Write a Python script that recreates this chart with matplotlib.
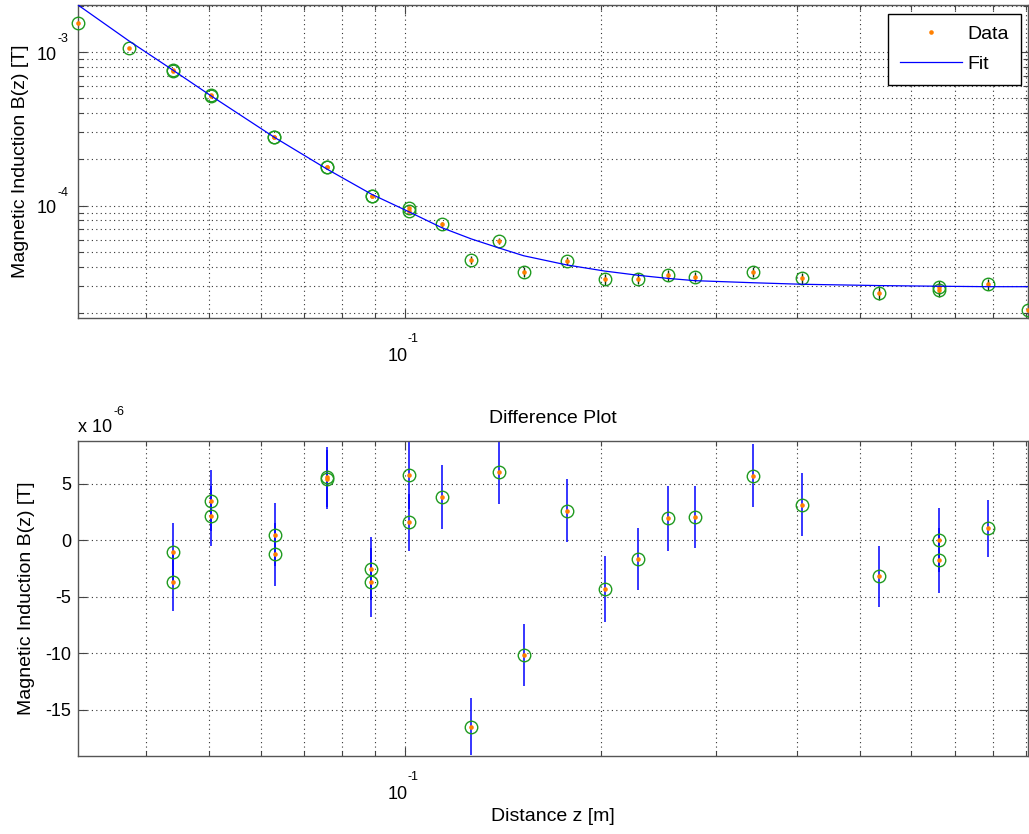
import matplotlib
matplotlib.use('Agg')
import matplotlib.pyplot as plt
from matplotlib.ticker import LogLocator, NullFormatter, NullLocator, FixedLocator, FixedFormatter
from matplotlib.lines import Line2D

plt.rcParams['font.family'] = ['Liberation Sans', 'DejaVu Sans']
plt.rcParams['axes.unicode_minus'] = False

# ---------------- data ----------------
z_data = [0.0314, 0.0376, 0.0440, 0.0440, 0.0503, 0.0503, 0.0629, 0.0629,
          0.0758, 0.0758, 0.0888, 0.0888, 0.1014, 0.1014, 0.1138, 0.1264,
          0.1396, 0.1521, 0.1773, 0.2029, 0.2284, 0.2539, 0.2790, 0.3431,
          0.4071, 0.5348, 0.6613, 0.6613, 0.7884, 0.9073]
B_data = [1.56e-3, 1.062e-3, 7.60e-4, 7.57e-4, 5.22e-4, 5.21e-4, 2.80e-4, 2.78e-4,
          1.78e-4, 1.78e-4, 1.163e-4, 1.161e-4, 9.65e-5, 9.25e-5, 7.56e-5, 4.41e-5,
          5.89e-5, 3.70e-5, 4.36e-5, 3.31e-5, 3.34e-5, 3.53e-5, 3.43e-5, 3.71e-5,
          3.38e-5, 2.69e-5, 2.94e-5, 2.82e-5, 3.07e-5, 2.09e-5]
B_err = [2.8e-6, 2.8e-6, 2.6e-6, 2.6e-6, 2.7e-6, 2.7e-6, 2.8e-6, 2.8e-6,
         2.6e-6, 2.6e-6, 2.8e-6, 3.0e-6, 3.0e-6, 2.5e-6, 2.8e-6, 2.6e-6,
         2.9e-6, 2.7e-6, 2.8e-6, 2.9e-6, 2.8e-6, 2.9e-6, 2.7e-6, 2.8e-6,
         2.8e-6, 2.7e-6, 2.8e-6, 2.9e-6, 2.5e-6, 2.8e-6]

z_fit = [0.0314, 0.0376, 0.0440, 0.0503, 0.0629, 0.0758, 0.0888, 0.1014,
         0.1138, 0.1264, 0.1396, 0.1521, 0.1773, 0.2029, 0.2284, 0.2539,
         0.2790, 0.3431, 0.4071, 0.5348, 0.6613, 0.7884, 0.9073]
B_fit = [2.03e-3, 1.185e-3, 7.61e-4, 5.19e-4, 2.79e-4, 1.73e-4, 1.185e-4, 9.1e-5,
         7.18e-5, 6.06e-5, 5.28e-5, 4.71e-5, 4.10e-5, 3.74e-5, 3.51e-5, 3.35e-5,
         3.24e-5, 3.14e-5, 3.07e-5, 3.01e-5, 2.98e-5, 2.96e-5, 2.96e-5]

# residuals in units of 1e-6 T
z_res = [0.0440, 0.0440, 0.0503, 0.0503, 0.0630, 0.0630, 0.0758, 0.0758,
         0.0887, 0.0887, 0.1014, 0.1014, 0.1138, 0.1264, 0.1396, 0.1521,
         0.1773, 0.2029, 0.2284, 0.2539, 0.2790, 0.3431, 0.4071, 0.5348,
         0.6613, 0.6613, 0.7884]
res = [-1.04, -3.71, 3.49, 2.13, 0.51, -1.24, 5.63, 5.42,
       -2.52, -3.71, 5.78, 1.60, 3.82, -16.5, 6.07, -10.13,
       2.64, -4.33, -1.66, 1.96, 2.07, 5.72, 3.14, -3.20,
       0.06, -1.78, 1.07]
res_err = [2.58, 2.58, 2.70, 2.67, 2.76, 2.76, 2.64, 2.60,
           2.78, 3.05, 3.00, 2.52, 2.82, 2.55, 2.87, 2.74,
           2.79, 2.92, 2.78, 2.86, 2.72, 2.78, 2.79, 2.74,
           2.84, 2.87, 2.52]

x_limits = [0.0314, 0.907]
top_ylim = [1.85e-5, 2.03e-3]
bottom_ylim = [-19.1, 8.8]
x_major = [0.1]
x_major_exp = ['-1']
top_y_major = [1e-4, 1e-3]
top_y_major_exp = ['-4', '-3']
res_ticks = [-15, -10, -5, 0, 5]

GREEN = '#1f9a1f'
ORANGE = '#ff8000'
BLUE = '#0000ff'
GRID = dict(linestyle=(0, (1, 3)), color='#333333', linewidth=0.8)
PX = 0.72  # points per pixel at dpi 100

W, H = 1029, 834
fig = plt.figure(figsize=(W / 100, H / 100), dpi=100)
ax1 = fig.add_axes([78 / W, 1 - 318 / H, 950 / W, 313 / H])
ax2 = fig.add_axes([78 / W, 1 - 756 / H, 950 / W, 315 / H])


def style(ax):
    for s in ax.spines.values():
        s.set_color('#555555')
        s.set_linewidth(1.0)
    ax.tick_params(which='both', direction='in', top=True, right=True,
                   color='#444444', labelcolor='black', labelsize=13)
    ax.tick_params(which='major', length=6.8, width=0.8)
    ax.tick_params(which='minor', length=3.6, width=0.8)
    ax.tick_params(axis='y', which='both', pad=5)
    ax.set_axisbelow(True)


def pow_label_x(ax, xv, exp):
    # "10" and a raised exponent, MATLAB style, below the x axis
    ax.annotate('10', xy=(xv, 0), xycoords=('data', 'axes fraction'),
                xytext=(2.5 * PX, -43 * PX), textcoords='offset points',
                ha='right', va='baseline', fontsize=13, annotation_clip=False)
    ax.annotate(exp, xy=(xv, 0), xycoords=('data', 'axes fraction'),
                xytext=(2.5 * PX, -24 * PX), textcoords='offset points',
                ha='left', va='baseline', fontsize=9, annotation_clip=False)


def pow_label_y(ax, yv, exp):
    ax.annotate('10', xy=(0, yv), xycoords=('axes fraction', 'data'),
                xytext=(-21 * PX, -7.7 * PX), textcoords='offset points',
                ha='right', va='baseline', fontsize=13, annotation_clip=False)
    ax.annotate(exp, xy=(0, yv), xycoords=('axes fraction', 'data'),
                xytext=(-20 * PX, 10 * PX), textcoords='offset points',
                ha='left', va='baseline', fontsize=9, annotation_clip=False)


# ---------------- top plot ----------------
ax1.set_xscale('log')
ax1.set_yscale('log')
ax1.errorbar(z_data, B_data, yerr=B_err, fmt='none', ecolor='#0a3d0a',
             elinewidth=1.0, capsize=0, zorder=2)
ax1.plot(z_data, B_data, 'o', mfc='none', mec=GREEN, ms=9, mew=1.0,
         zorder=3, clip_on=False)
ax1.plot(z_data, B_data, 'o', color=ORANGE, ms=3.3, mew=0, zorder=4,
         clip_on=False)
ax1.plot(z_fit, B_fit, '-', color=BLUE, lw=0.9, zorder=5)
ax1.set_xlim(x_limits)
ax1.set_ylim(top_ylim)
ax1.xaxis.set_major_locator(FixedLocator(x_major))
ax1.xaxis.set_major_formatter(NullFormatter())
ax1.xaxis.set_minor_locator(LogLocator(base=10, subs=range(2, 10), numticks=20))
ax1.xaxis.set_minor_formatter(NullFormatter())
ax1.yaxis.set_major_locator(FixedLocator(top_y_major))
ax1.yaxis.set_major_formatter(NullFormatter())
ax1.yaxis.set_minor_locator(LogLocator(base=10, subs=range(2, 10), numticks=20))
ax1.yaxis.set_minor_formatter(NullFormatter())
ax1.grid(True, which='both', **GRID)
style(ax1)
for xv, e in zip(x_major, x_major_exp):
    pow_label_x(ax1, xv, e)
for yv, e in zip(top_y_major, top_y_major_exp):
    pow_label_y(ax1, yv, e)
ax1.set_ylabel('Magnetic Induction B(z) [T]', fontsize=14)
ax1.yaxis.set_label_coords(-0.052, 0.5)

handles = [Line2D([], [], ls='none', marker='o', color=ORANGE, ms=3.3, mew=0),
           Line2D([], [], color=BLUE, lw=0.9)]
leg = ax1.legend(handles, ['Data', 'Fit'], loc='upper right',
                 bbox_to_anchor=(0.9926, 0.9712), borderaxespad=0,
                 fontsize=14, handlelength=3.2, handletextpad=0.3,
                 labelspacing=0.62, borderpad=0.6, fancybox=False,
                 framealpha=1, edgecolor='black')
leg.get_frame().set_linewidth(1.0)

# ---------------- bottom plot ----------------
ax2.set_xscale('log')
ax2.errorbar(z_res, res, yerr=res_err, fmt='none', ecolor=BLUE,
             elinewidth=1.1, capsize=0, zorder=2)
ax2.plot(z_res, res, 'o', mfc='none', mec=GREEN, ms=9, mew=1.0, zorder=3)
ax2.plot(z_res, res, 'o', color=ORANGE, ms=3.3, mew=0, zorder=4)
ax2.set_xlim(x_limits)
ax2.set_ylim(bottom_ylim)
ax2.xaxis.set_major_locator(FixedLocator(x_major))
ax2.xaxis.set_major_formatter(NullFormatter())
ax2.xaxis.set_minor_locator(LogLocator(base=10, subs=range(2, 10), numticks=20))
ax2.xaxis.set_minor_formatter(NullFormatter())
ax2.yaxis.set_major_locator(FixedLocator(res_ticks))
ax2.yaxis.set_major_formatter(FixedFormatter([str(t) for t in res_ticks]))
ax2.yaxis.set_minor_locator(NullLocator())
ax2.grid(True, which='both', **GRID)
style(ax2)
for xv, e in zip(x_major, x_major_exp):
    pow_label_x(ax2, xv, e)
ax2.set_ylabel('Magnetic Induction B(z) [T]', fontsize=14)
ax2.yaxis.set_label_coords(-0.045, 0.5)
ax2.set_xlabel('Distance z [m]', fontsize=14)
ax2.xaxis.set_label_coords(0.5, -0.165)
ax2.text(0.5, 1.073, 'Difference Plot', transform=ax2.transAxes,
         ha='center', va='center', fontsize=14)
ax2.annotate('x 10', xy=(0, 1), xycoords='axes fraction',
             xytext=(0, 324 * PX - 315 * PX), textcoords='offset points',
             ha='left', va='baseline', fontsize=13, annotation_clip=False)
ax2.annotate('-6', xy=(0, 1), xycoords='axes fraction',
             xytext=(35 * PX, 26 * PX), textcoords='offset points',
             ha='left', va='baseline', fontsize=9, annotation_clip=False)

fig.savefig('out.png', dpi=100)
